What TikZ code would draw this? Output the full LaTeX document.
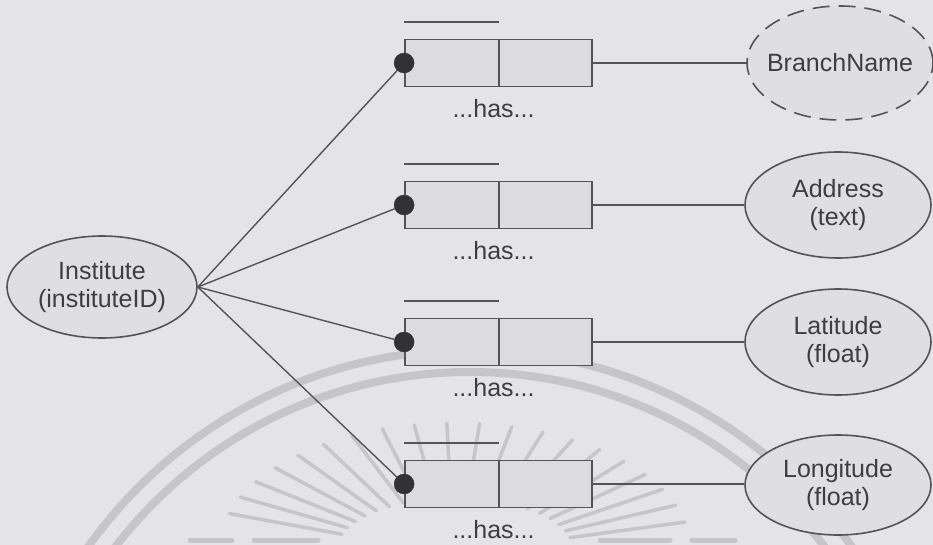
\documentclass[tikz,border=0pt]{standalone}
\usepackage{fontspec}
\setmainfont{Liberation Sans}
\usetikzlibrary{shapes.geometric}
\definecolor{paper}{RGB}{228,228,231}
\definecolor{ink}{RGB}{84,84,86}
\definecolor{txt}{RGB}{62,62,64}
\definecolor{boxfill}{RGB}{220,220,223}
\definecolor{ellfill}{RGB}{223,223,226}
\definecolor{seal}{RGB}{198,198,202}
\definecolor{dotfill}{RGB}{50,50,52}
\begin{document}
\begin{tikzpicture}[x=1pt,y=-1pt,
  entity/.style={ellipse, draw=ink, line width=1.6pt, fill=ellfill, inner sep=0pt,
    minimum width=186pt, minimum height=106pt,
    font=\fontsize{25}{28}\selectfont, text=txt, align=center},
  relbox/.style={rectangle, draw=ink, line width=1.8pt, fill=boxfill, inner sep=0pt,
    minimum width=187pt, minimum height=47pt},
  joint/.style={circle, fill=dotfill, draw=dotfill, inner sep=0pt, minimum size=20pt},
  haslabel/.style={font=\fontsize{25}{28}\selectfont, text=txt, inner sep=0pt},
  conn/.style={draw=ink, line width=1.4pt},
  bar/.style={draw=ink, line width=2pt},
  sealband/.style={draw=seal, line width=8pt},
  sealray/.style={draw=seal, line width=3.5pt, line cap=round},
]
% page
\fill[paper] (0,0) rectangle (933,545);
\useasboundingbox (0,0) rectangle (933,545);

% faint seal printed behind the figure
\begin{scope}
  \clip (0,0) rectangle (933,545);
  \draw[sealband] (470,819) circle[radius=469pt];
  \draw[sealband] (470,819) circle[radius=447pt];
  \foreach \a in {12,20,...,168} {
    \draw[sealray] ({455+0.5*235*cos(\a)},{548-0.4*125*sin(\a)})
                -- ({455+235*cos(\a)},{548-125*sin(\a)});
  }
  \foreach \xa/\xb in {190/232, 254/318, 600/670, 692/735}
    \draw[sealband, line width=5pt, line cap=round] (\xa,540) -- (\xb,540);
\end{scope}

% attribute ellipses
\node[entity, minimum width=190pt, minimum height=102pt] (inst) at (102,287) {Institute\\(instituteID)};
\node[entity, dashed, dash pattern=on 17pt off 9pt, minimum height=114pt, inner xsep=-9pt] (branch) at (840,63) {BranchName};
\node[entity] (addr) at (838,205) {Address\\(text)};
\node[entity] (lat) at (838,342) {Latitude\\(float)};
\node[entity, minimum height=100pt] (lon) at (838,485) {Longitude\\(float)};

% relationship boxes
\foreach \i/\yc in {1/63, 2/205, 3/342, 4/484} {
  \node[relbox] (b\i) at (498.5,\yc) {};
  \draw[bar] (b\i.north) -- (b\i.south);
  \draw[bar] ([yshift=17pt]b\i.north west) -- ([yshift=17pt]b\i.north);
  \node[haslabel] (h\i) at ([xshift=-5pt,yshift=-21pt]b\i.south) {...has...};
  \node[joint] (d\i) at (b\i.west) {};
  \draw[conn] (inst.east) -- (d\i);
}

% links to attributes
\draw[conn] (b1.east) -- (branch.west);
\draw[conn] (b2.east) -- (addr.west);
\draw[conn] (b3.east) -- (lat.west);
\draw[conn] (b4.east) -- (b4.east -| lon.west);
\end{tikzpicture}
\end{document}
